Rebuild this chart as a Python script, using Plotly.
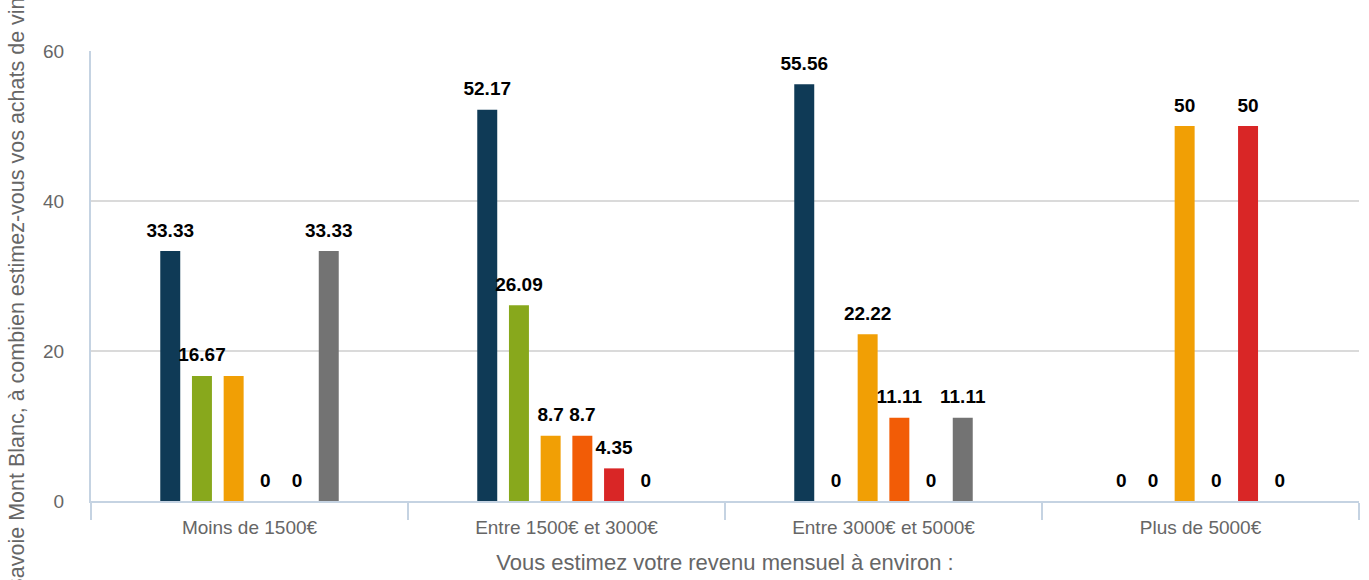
import plotly.graph_objects as go

categories = ["Moins de 1500€", "Entre 1500€ et 3000€", "Entre 3000€ et 5000€", "Plus de 5000€"]
series_names = ["Série 1", "Série 2", "Série 3", "Série 4", "Série 5", "Série 6"]
s1 = [33.33, 52.17, 55.56, 0]
s2 = [16.67, 26.09, 0, 0]
s3 = [16.67, 8.7, 22.22, 50]
s4 = [0, 8.7, 11.11, 0]
s5 = [0, 4.35, 0, 50]
s6 = [33.33, 0, 11.11, 0]
series_values = [s1, s2, s3, s4, s5, s6]
# labels hidden in the reference because they collide with a neighbour (series index, category index)
hidden_labels = [(2, 0)]
colors = ["#0f3a56", "#88a81c", "#f19f05", "#f25c06", "#d92626", "#737373"]
y_ticks = [0, 20, 40, 60]

FONT = "Liberation Sans, Arial, sans-serif"

fig = go.Figure()
for name, vals, col in zip(series_names, series_values, colors):
    fig.add_trace(go.Bar(
        x=categories, y=vals, name=name, marker=dict(color=col, line=dict(width=0)),
        showlegend=False, hoverinfo="x+y+name",
    ))
for si, (name, vals) in enumerate(zip(series_names, series_values)):
    labels = ["" if (si, ci) in hidden_labels else f"{v:g}" for ci, v in enumerate(vals)]
    fig.add_trace(go.Scatter(
        x=categories, y=vals, name=name, mode="markers+text",
        marker=dict(size=14, opacity=0),
        text=labels, textposition="top center",
        textfont=dict(family=FONT, size=19, color="#000000", weight="bold"),
        showlegend=False, hoverinfo="skip", cliponaxis=False,
    ))

fig.update_layout(
    width=1369, height=580,
    margin=dict(l=91, r=10, t=51, b=79, autoexpand=False),
    paper_bgcolor="white", plot_bgcolor="white",
    barmode="group", bargap=0.4, bargroupgap=0.37,
    scattermode="group", scattergap=0.4,
    font=dict(family=FONT, color="#666666"),
    xaxis=dict(
        type="category", categoryorder="array", categoryarray=categories,
        automargin=False,
        showgrid=False, showline=True, linecolor="#c5d3e2", linewidth=2,
        ticks="outside", tickson="boundaries", ticklen=17, tickcolor="#c5d3e2", tickwidth=2,
        ticklabelstandoff=8,
        tickfont=dict(family=FONT, size=19, color="#666666"),
        title=dict(text="Vous estimez votre revenu mensuel à environ :",
                   font=dict(family=FONT, size=22, color="#666666"), standoff=18),
        zeroline=False,
    ),
    yaxis=dict(
        range=[0, 60], tickvals=y_ticks, ticktext=[str(t) for t in y_ticks],
        automargin=False,
        showgrid=True, gridcolor="#dadada", gridwidth=2,
        showline=True, linecolor="#c5d3e2", linewidth=2,
        zeroline=False, ticks="", ticklabelstandoff=21,
        tickfont=dict(family=FONT, size=19, color="#666666"),
    ),
    annotations=[dict(
        text="En Haute-Savoie Mont Blanc, à combien estimez-vous vos achats de vins",
        xref="paper", yref="paper", x=-0.0584, xanchor="center",
        y=-0.422, yanchor="bottom", textangle=-90, showarrow=False,
        font=dict(family=FONT, size=21.5, color="#666666"),
    )],
)

fig.write_html("out.html", config={"displayModeBar": False},
               post_script="document.body.style.margin='0';")
